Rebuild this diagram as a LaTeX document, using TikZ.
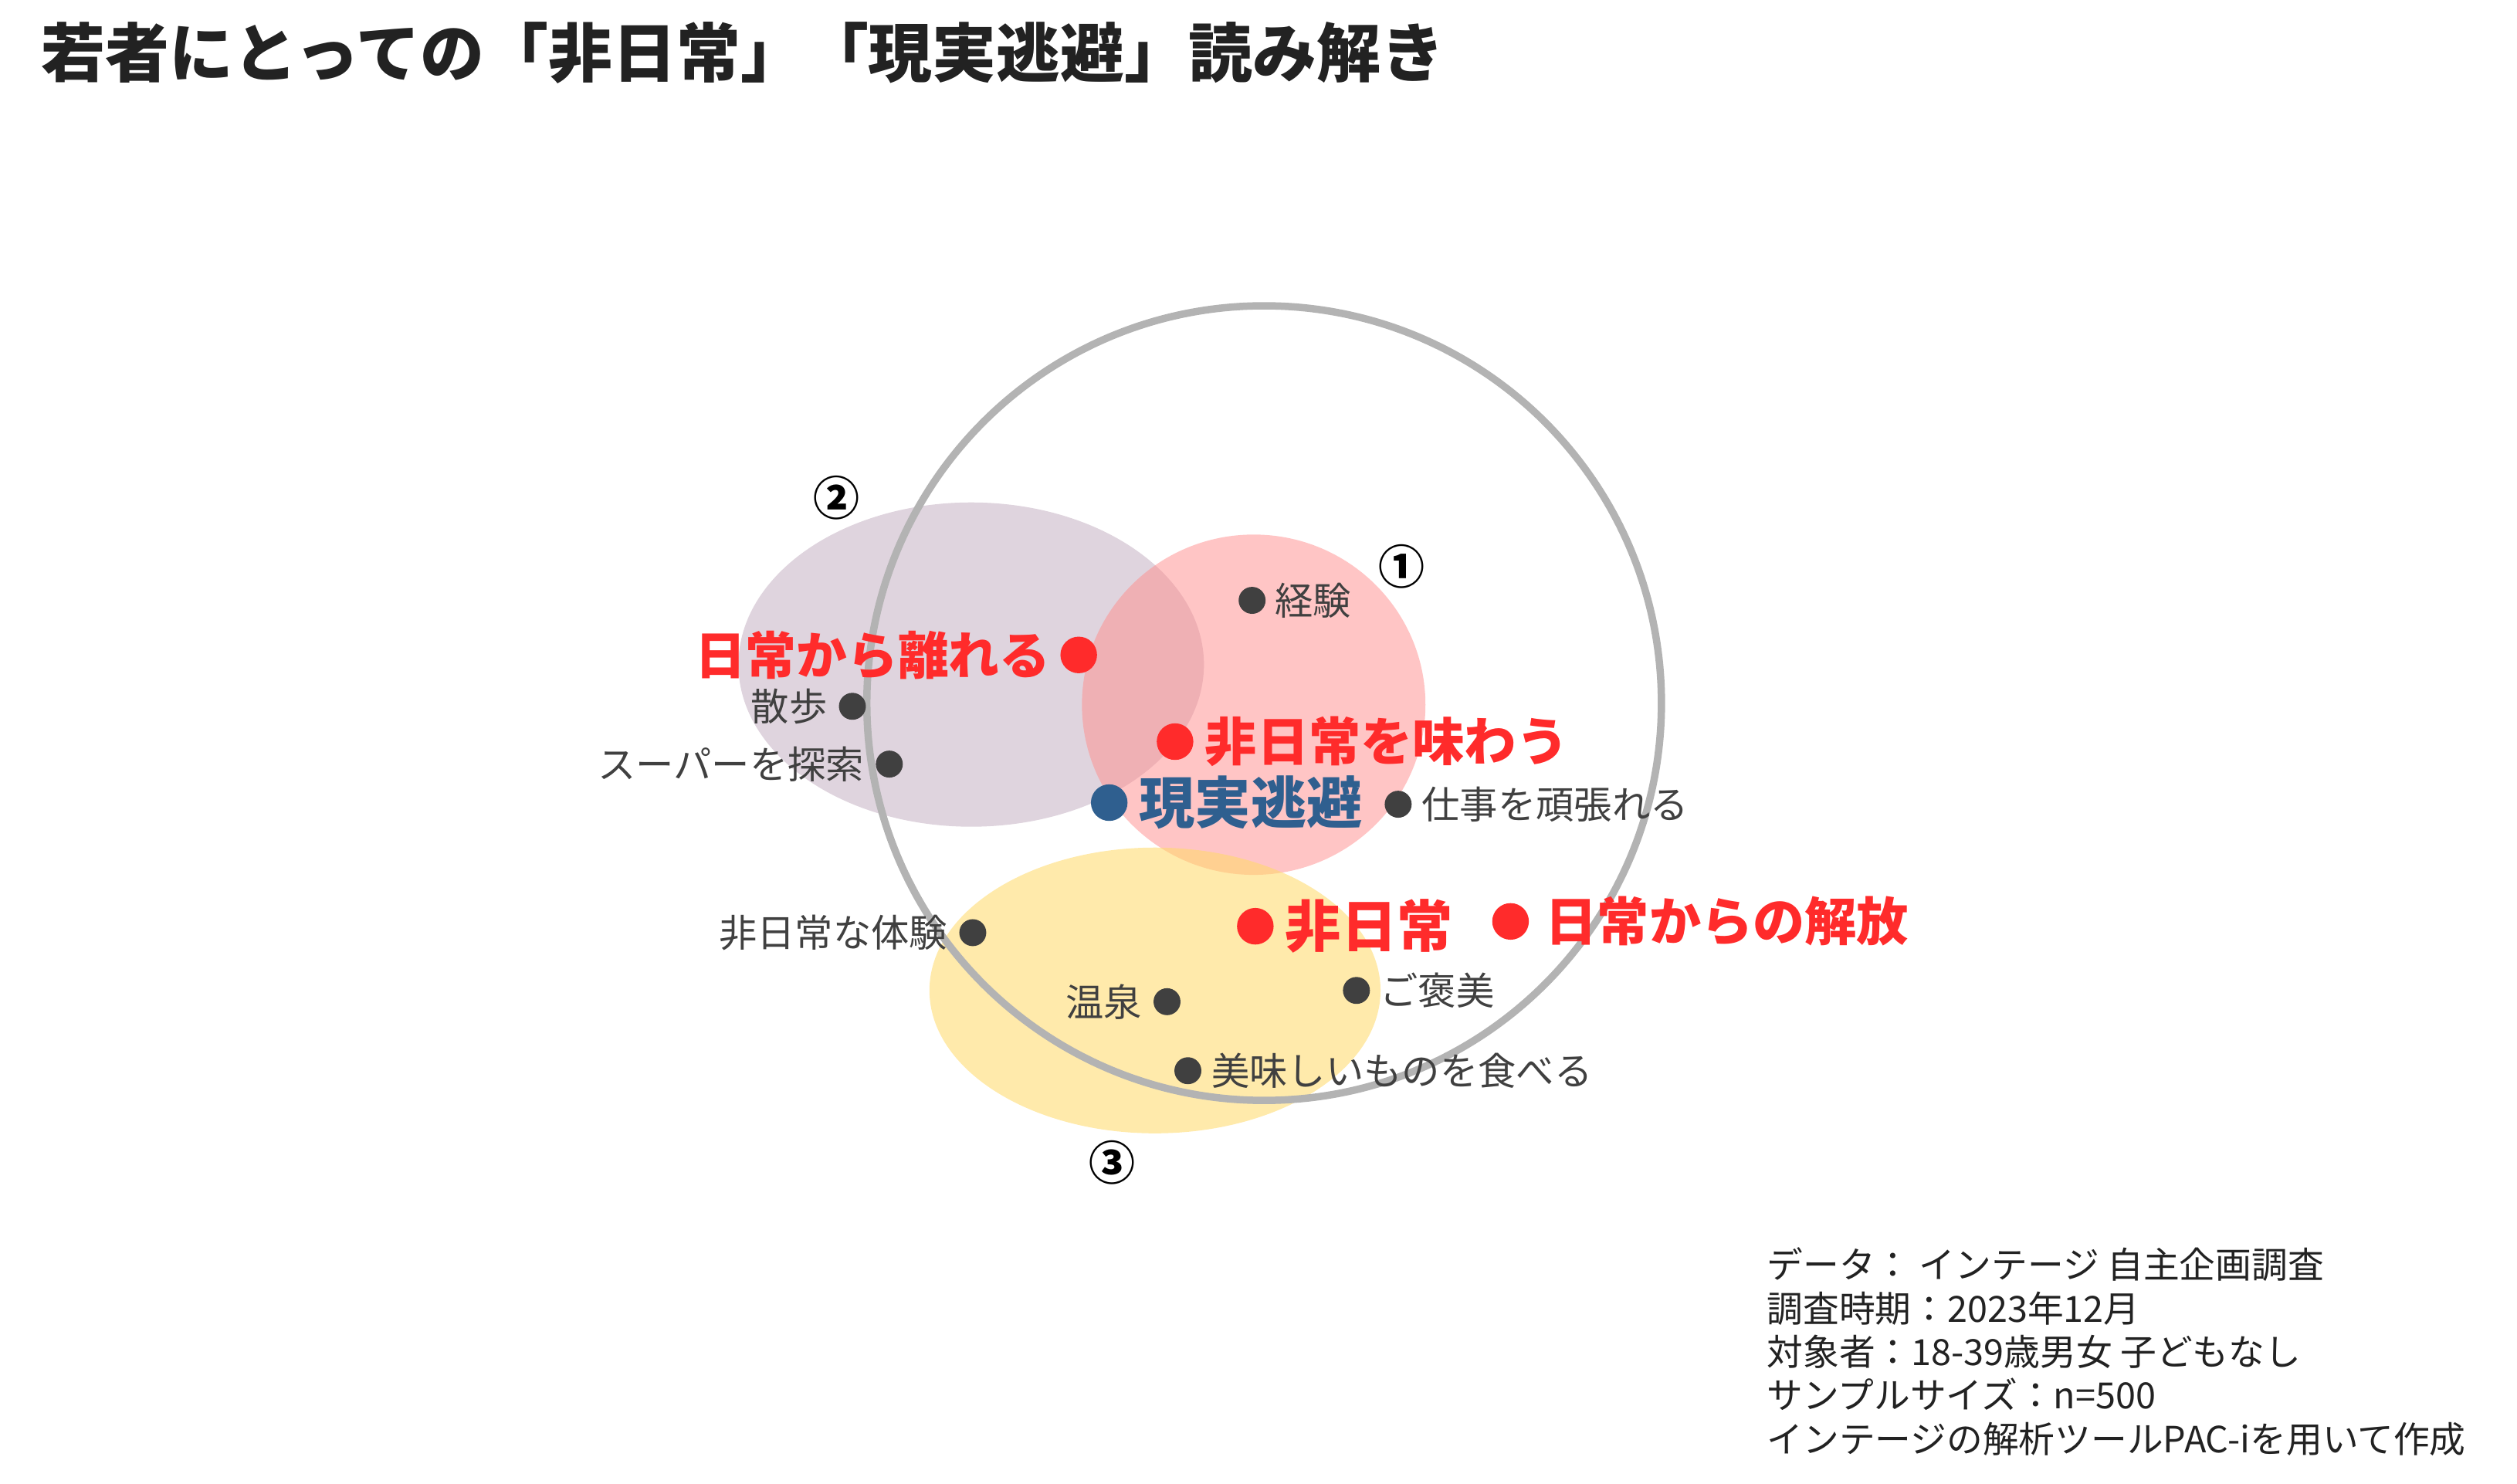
\documentclass[tikz,border=0pt]{standalone}
\usepackage{fontspec}
\setmainfont{Noto Sans CJK JP}
\usetikzlibrary{positioning}

\definecolor{ringgray}{HTML}{B3B3B3}
\definecolor{lilac}{HTML}{B9A0B5}
\definecolor{rosa}{HTML}{FF8C8C}
\definecolor{sun}{HTML}{FFD966}
\definecolor{hotred}{HTML}{FF2B2B}
\definecolor{escblue}{HTML}{2F5F8F}
\definecolor{ink}{HTML}{404040}
\definecolor{titleink}{HTML}{222222}

\begin{document}
\begin{tikzpicture}[
    every node/.style={inner sep=0pt},
    item/.style={font=\fontsize{6.75}{8}\selectfont, text=ink},
    keyword/.style={font=\fontsize{9.2}{11}\selectfont\bfseries, text=hotred},
    bigword/.style={keyword, font=\fontsize{9.9}{11}\selectfont\bfseries},
    num/.style={font=\fontsize{8.2}{9}\selectfont\bfseries, text=black}]
    \useasboundingbox (0,0) rectangle (15.68,9.24);

    % --- ЗАГОЛОВОК ---
    \node[anchor=west, font=\fontsize{11.35}{14}\selectfont\bfseries, text=titleink] (title) at (0.25,8.91)
        {若者にとっての「非日常」「現実逃避」読み解き};

    % --- ОБЛАСТИ ---
    \fill[lilac, fill opacity=0.45] (6.05,5.10) ellipse (1.45 and 1.01);   % область 2
    \fill[rosa, fill opacity=0.5] (7.81,4.85) ellipse (1.07 and 1.06);     % область 1
    \fill[sun, fill opacity=0.55] (7.195,3.07) ellipse (1.405 and 0.89);   % область 3
    \draw[ringgray, line width=1.3pt] (7.875,4.86) circle (2.475);

    % номера областей
    \node[num] (n1) at (8.73,5.71) {①};
    \node[num] (n2) at (5.21,6.14) {②};
    \node[num] (n3) at (6.93,2.00) {③};

    % --- ТОЧКИ ---
    \coordinate (keiken) at (7.80,5.50);
    \coordinate (hanareru) at (6.72,5.16);
    \coordinate (sanpo) at (5.31,4.84);
    \coordinate (super) at (5.54,4.48);
    \coordinate (ajiwau) at (7.32,4.62);
    \coordinate (touhi) at (6.91,4.24);
    \coordinate (shigoto) at (8.71,4.23);
    \coordinate (taiken) at (6.06,3.43);
    \coordinate (hinichijo) at (7.82,3.47);
    \coordinate (kaiho) at (9.41,3.50);
    \coordinate (onsen) at (7.27,3.00);
    \coordinate (gohoubi) at (8.45,3.07);
    \coordinate (taberu) at (7.40,2.57);

    % серые пункты
    \fill[ink] (keiken) circle (0.084);
    \node[item, right=0.135cm of keiken] (keikenL) {経験};
    \fill[ink] (sanpo) circle (0.084);
    \node[item, left=0.15cm of sanpo] (sanpoL) {散歩};
    \fill[ink] (super) circle (0.084);
    \node[item, left=0.15cm of super] (superL) {スーパーを探索};
    \fill[ink] (shigoto) circle (0.084);
    \node[item, right=0.14cm of shigoto] (shigotoL) {仕事を頑張れる};
    \fill[ink] (taiken) circle (0.084);
    \node[item, left=0.15cm of taiken] (taikenL) {非日常な体験};
    \fill[ink] (onsen) circle (0.084);
    \node[item, left=0.15cm of onsen] (onsenL) {温泉};
    \fill[ink] (gohoubi) circle (0.084);
    \node[item, right=0.14cm of gohoubi] (gohoubiL) {ご褒美};
    \fill[ink] (taberu) circle (0.084);
    \node[item, right=0.14cm of taberu] (taberuL) {美味しいものを食べる};

    % красные пункты
    \fill[hotred] (hanareru) circle (0.114);
    \node[keyword, font=\fontsize{9}{11}\selectfont\bfseries, left=0.17cm of hanareru] (hanareruL) {日常から離れる};
    \fill[hotred] (ajiwau) circle (0.114);
    \node[keyword, right=0.18cm of ajiwau] (ajiwauL) {非日常を味わう};
    \fill[hotred] (hinichijo) circle (0.114);
    \node[bigword, right=0.18cm of hinichijo] (hinichijoL) {非日常};
    \fill[hotred] (kaiho) circle (0.114);
    \node[keyword, right=0.21cm of kaiho] (kaihoL) {日常からの解放};

    % синий пункт
    \fill[escblue] (touhi) circle (0.114);
    \node[bigword, text=escblue, right=0.18cm of touhi] (touhiL) {現実逃避};

    % --- ИСТОЧНИК ---
    \node[anchor=west, align=left, font=\fontsize{6.4}{7.7}\selectfont, text=titleink] (source) at (11.00,0.82)
        {データ： インテージ 自主企画調査\\
         調査時期：2023年12月\\
         対象者：18-39歳男女 子どもなし\\
         サンプルサイズ：n=500\\
         インテージの解析ツールPAC-iを用いて作成};
\end{tikzpicture}
\end{document}
